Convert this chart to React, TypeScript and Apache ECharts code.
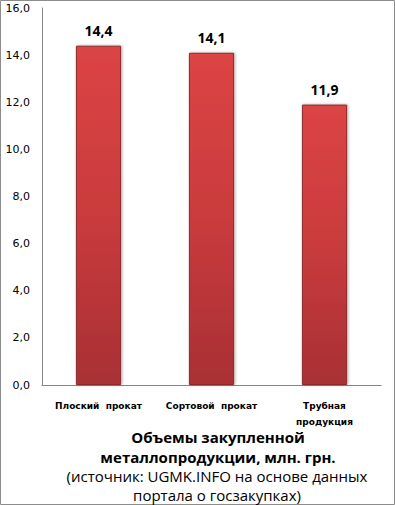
import React, { useEffect, useRef } from "react";
import * as echarts from "echarts";

const categories = ["Плоский  прокат", "Сортовой  прокат", "Трубная\nпродукция"];
const values = [14.4, 14.1, 11.9];
const yTicks = { min: 0, max: 16, interval: 2 };
const titleText = "Объемы закупленной\nметаллопродукции, млн. грн.";
const subText = "(источник: UGMK.INFO на основе данных\nпортала о госзакупках)";

export default function App() {
  const ref = useRef<HTMLDivElement>(null);
  useEffect(() => {
    document.body.style.margin = "0";
    const chart = echarts.init(ref.current!, null, { renderer: "svg" });
    chart.setOption({
      animation: false,
      backgroundColor: "#ffffff",
      graphic: [
        {
          type: "rect",
          shape: { x: 0.5, y: 0.5, width: 394, height: 504 },
          style: { fill: "none", stroke: "#8c8c8c", lineWidth: 1 },
          silent: true,
        },
        {
          type: "text",
          x: 218,
          y: 427,
          silent: true,
          style: {
            text: titleText,
            textAlign: "center",
            textVerticalAlign: "top",
            font: "bold 15px 'Open Sans'",
            lineHeight: 20,
            fill: "#000",
          },
        },
        {
          type: "text",
          x: 217,
          y: 466,
          silent: true,
          style: {
            text: subText,
            textAlign: "center",
            textVerticalAlign: "top",
            font: "15px 'Open Sans'",
            lineHeight: 19,
            fill: "#000",
          },
        },
      ],
      grid: { left: 42, right: 14, top: 8, bottom: 120, containLabel: false },
      xAxis: {
        type: "category",
        data: categories,
        axisLine: { show: true, lineStyle: { color: "#868686", width: 1 } },
        axisTick: { show: false },
        axisLabel: {
          interval: 0,
          margin: 13,
          fontFamily: "DejaVu Sans",
          fontWeight: "bold",
          fontSize: 9,
          lineHeight: 16,
          color: "#000",
        },
      },
      yAxis: {
        type: "value",
        min: yTicks.min,
        max: yTicks.max,
        interval: yTicks.interval,
        axisLine: { show: true, lineStyle: { color: "#868686", width: 1 } },
        axisTick: { show: false },
        splitLine: { show: false },
        axisLabel: {
          margin: 12,
          fontFamily: "DejaVu Sans",
          fontSize: 11,
          color: "#000",
          formatter: (v: number) => v.toFixed(1).replace(".", ","),
        },
      },
      series: [
        {
          type: "bar",
          data: values,
          barWidth: "40%",
          itemStyle: {
            color: new echarts.graphic.LinearGradient(0, 0, 0, 1, [
              { offset: 0, color: "#dc4444" },
              { offset: 0.5, color: "#c93b3d" },
              { offset: 1, color: "#a83034" },
            ]),
            borderColor: "#8a2a2c",
            borderWidth: 1,
            shadowColor: "rgba(0,0,0,0.35)",
            shadowBlur: 3,
            shadowOffsetX: 1,
            shadowOffsetY: 0,
          },
          label: {
            show: true,
            position: "top",
            distance: 8,
            fontFamily: "Open Sans",
            fontWeight: "bold",
            fontSize: 14,
            color: "#000",
            formatter: (p: any) => Number(p.value).toFixed(1).replace(".", ","),
          },
        },
      ],
    });
    return () => chart.dispose();
  }, []);
  return <div ref={ref} style={{ width: 395, height: 505 }} />;
}
